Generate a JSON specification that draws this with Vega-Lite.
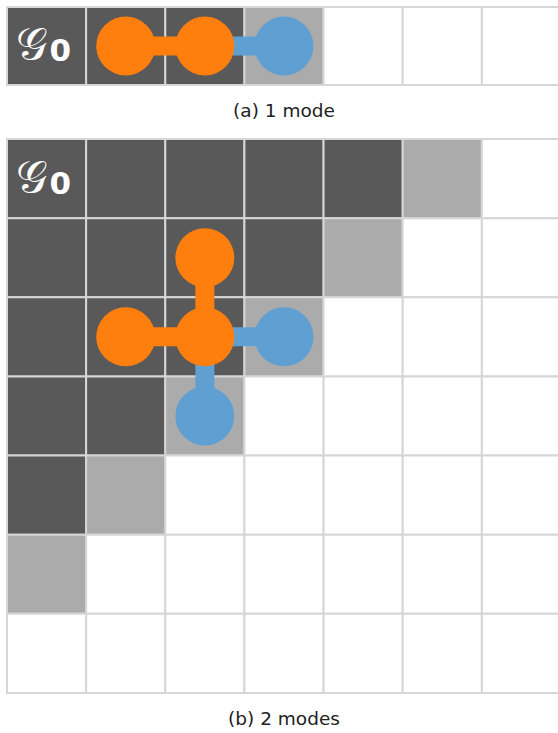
{
  "$schema": "https://vega.github.io/schema/vega-lite/v6.json",
  "padding": {"left": 6, "top": 6, "right": 0, "bottom": 0},
  "background": "white",
  "bounds": "flush",
  "spacing": 54,
  "config": {"view": {"stroke": null}, "axis": {"disable": true}},
  "datasets": {
    "label": [{"col": 0, "row": 0}],
    "cellsA": [
      {"col": 0, "row": 0, "state": "dark"},
      {"col": 1, "row": 0, "state": "dark"},
      {"col": 2, "row": 0, "state": "dark"},
      {"col": 3, "row": 0, "state": "light"},
      {"col": 4, "row": 0, "state": "empty"},
      {"col": 5, "row": 0, "state": "empty"},
      {"col": 6, "row": 0, "state": "empty"}
    ],
    "nodesA": [
      {"col": 1, "row": 0, "kind": "orange"},
      {"col": 2, "row": 0, "kind": "orange"},
      {"col": 3, "row": 0, "kind": "blue"}
    ],
    "edgesA": [
      {"c1": 1, "r1": 0, "c2": 2, "r2": 0, "kind": "orange"},
      {"c1": 2, "r1": 0, "c2": 3, "r2": 0, "kind": "blue"}
    ],
    "cellsB": [
      {"col": 0, "row": 0, "state": "dark"}, {"col": 1, "row": 0, "state": "dark"}, {"col": 2, "row": 0, "state": "dark"}, {"col": 3, "row": 0, "state": "dark"}, {"col": 4, "row": 0, "state": "dark"}, {"col": 5, "row": 0, "state": "light"}, {"col": 6, "row": 0, "state": "empty"},
      {"col": 0, "row": 1, "state": "dark"}, {"col": 1, "row": 1, "state": "dark"}, {"col": 2, "row": 1, "state": "dark"}, {"col": 3, "row": 1, "state": "dark"}, {"col": 4, "row": 1, "state": "light"}, {"col": 5, "row": 1, "state": "empty"}, {"col": 6, "row": 1, "state": "empty"},
      {"col": 0, "row": 2, "state": "dark"}, {"col": 1, "row": 2, "state": "dark"}, {"col": 2, "row": 2, "state": "dark"}, {"col": 3, "row": 2, "state": "light"}, {"col": 4, "row": 2, "state": "empty"}, {"col": 5, "row": 2, "state": "empty"}, {"col": 6, "row": 2, "state": "empty"},
      {"col": 0, "row": 3, "state": "dark"}, {"col": 1, "row": 3, "state": "dark"}, {"col": 2, "row": 3, "state": "light"}, {"col": 3, "row": 3, "state": "empty"}, {"col": 4, "row": 3, "state": "empty"}, {"col": 5, "row": 3, "state": "empty"}, {"col": 6, "row": 3, "state": "empty"},
      {"col": 0, "row": 4, "state": "dark"}, {"col": 1, "row": 4, "state": "light"}, {"col": 2, "row": 4, "state": "empty"}, {"col": 3, "row": 4, "state": "empty"}, {"col": 4, "row": 4, "state": "empty"}, {"col": 5, "row": 4, "state": "empty"}, {"col": 6, "row": 4, "state": "empty"},
      {"col": 0, "row": 5, "state": "light"}, {"col": 1, "row": 5, "state": "empty"}, {"col": 2, "row": 5, "state": "empty"}, {"col": 3, "row": 5, "state": "empty"}, {"col": 4, "row": 5, "state": "empty"}, {"col": 5, "row": 5, "state": "empty"}, {"col": 6, "row": 5, "state": "empty"},
      {"col": 0, "row": 6, "state": "empty"}, {"col": 1, "row": 6, "state": "empty"}, {"col": 2, "row": 6, "state": "empty"}, {"col": 3, "row": 6, "state": "empty"}, {"col": 4, "row": 6, "state": "empty"}, {"col": 5, "row": 6, "state": "empty"}, {"col": 6, "row": 6, "state": "empty"}
    ],
    "nodesB": [
      {"col": 2, "row": 1, "kind": "orange"},
      {"col": 1, "row": 2, "kind": "orange"},
      {"col": 2, "row": 2, "kind": "orange"},
      {"col": 3, "row": 2, "kind": "blue"},
      {"col": 2, "row": 3, "kind": "blue"}
    ],
    "edgesB": [
      {"c1": 2, "r1": 1, "c2": 2, "r2": 2, "kind": "orange"},
      {"c1": 1, "r1": 2, "c2": 2, "r2": 2, "kind": "orange"},
      {"c1": 2, "r1": 2, "c2": 3, "r2": 2, "kind": "blue"},
      {"c1": 2, "r1": 2, "c2": 2, "r2": 3, "kind": "blue"}
    ]
  },
  "vconcat": [
    {
      "width": 554,
      "height": 78,
      "title": {"text": "(a) 1 mode", "orient": "bottom", "anchor": "middle", "offset": 16, "fontSize": 18.5, "fontWeight": "normal", "font": "DejaVu Sans", "color": "#222222"},
      "layer": [
        {
          "data": {"name": "cellsA"},
          "mark": {"type": "rect", "stroke": "#d6d6d6", "strokeWidth": 2},
          "encoding": {
            "x": {"field": "col", "type": "ordinal", "scale": {"domain": [0, 1, 2, 3, 4, 5, 6], "paddingInner": 0, "paddingOuter": 0}},
            "y": {"field": "row", "type": "ordinal", "scale": {"domain": [0], "paddingInner": 0, "paddingOuter": 0}},
            "fill": {"field": "state", "type": "nominal", "legend": null, "scale": {"domain": ["dark", "light", "empty"], "range": ["#595959", "#ababab", "#ffffff"]}}
          }
        },
        {
          "data": {"name": "edgesA"},
          "mark": {"type": "rule", "strokeWidth": 19, "strokeCap": "butt"},
          "encoding": {
            "x": {"field": "c1", "type": "ordinal"},
            "x2": {"field": "c2"},
            "y": {"field": "r1", "type": "ordinal"},
            "y2": {"field": "r2"},
            "color": {"field": "kind", "type": "nominal", "legend": null, "scale": {"domain": ["orange", "blue"], "range": ["#ff7f0e", "#5f9fd2"]}}
          }
        },
        {
          "data": {"name": "nodesA"},
          "mark": {"type": "circle", "size": 3480, "opacity": 1},
          "encoding": {
            "x": {"field": "col", "type": "ordinal"},
            "y": {"field": "row", "type": "ordinal"},
            "color": {"field": "kind", "type": "nominal", "legend": null}
          }
        },
        {
          "data": {"name": "label"},
          "mark": {"type": "text", "text": "𝒢", "font": "DejaVu Serif", "fontSize": 44, "color": "white", "align": "right", "dx": 0, "dy": 0},
          "encoding": {"x": {"field": "col", "type": "ordinal"}, "y": {"field": "row", "type": "ordinal"}}
        },
        {
          "data": {"name": "label"},
          "mark": {"type": "text", "text": "0", "font": "DejaVu Sans", "fontWeight": "bold", "fontSize": 31, "color": "white", "align": "left", "dx": 3, "dy": 6},
          "encoding": {"x": {"field": "col", "type": "ordinal"}, "y": {"field": "row", "type": "ordinal"}}
        }
      ]
    },
    {
      "width": 554,
      "height": 554,
      "title": {"text": "(b) 2 modes", "orient": "bottom", "anchor": "middle", "offset": 16, "fontSize": 18.5, "fontWeight": "normal", "font": "DejaVu Sans", "color": "#222222"},
      "layer": [
        {
          "data": {"name": "cellsB"},
          "mark": {"type": "rect", "stroke": "#d6d6d6", "strokeWidth": 2},
          "encoding": {
            "x": {"field": "col", "type": "ordinal", "scale": {"domain": [0, 1, 2, 3, 4, 5, 6], "paddingInner": 0, "paddingOuter": 0}},
            "y": {"field": "row", "type": "ordinal", "scale": {"domain": [0, 1, 2, 3, 4, 5, 6], "paddingInner": 0, "paddingOuter": 0}},
            "fill": {"field": "state", "type": "nominal", "legend": null, "scale": {"domain": ["dark", "light", "empty"], "range": ["#595959", "#ababab", "#ffffff"]}}
          }
        },
        {
          "data": {"name": "edgesB"},
          "mark": {"type": "rule", "strokeWidth": 19, "strokeCap": "butt"},
          "encoding": {
            "x": {"field": "c1", "type": "ordinal"},
            "x2": {"field": "c2"},
            "y": {"field": "r1", "type": "ordinal"},
            "y2": {"field": "r2"},
            "color": {"field": "kind", "type": "nominal", "legend": null, "scale": {"domain": ["orange", "blue"], "range": ["#ff7f0e", "#5f9fd2"]}}
          }
        },
        {
          "data": {"name": "nodesB"},
          "mark": {"type": "circle", "size": 3480, "opacity": 1},
          "encoding": {
            "x": {"field": "col", "type": "ordinal"},
            "y": {"field": "row", "type": "ordinal"},
            "color": {"field": "kind", "type": "nominal", "legend": null}
          }
        },
        {
          "data": {"name": "label"},
          "mark": {"type": "text", "text": "𝒢", "font": "DejaVu Serif", "fontSize": 44, "color": "white", "align": "right", "dx": 0, "dy": 0},
          "encoding": {"x": {"field": "col", "type": "ordinal"}, "y": {"field": "row", "type": "ordinal"}}
        },
        {
          "data": {"name": "label"},
          "mark": {"type": "text", "text": "0", "font": "DejaVu Sans", "fontWeight": "bold", "fontSize": 31, "color": "white", "align": "left", "dx": 3, "dy": 6},
          "encoding": {"x": {"field": "col", "type": "ordinal"}, "y": {"field": "row", "type": "ordinal"}}
        }
      ]
    }
  ]
}
